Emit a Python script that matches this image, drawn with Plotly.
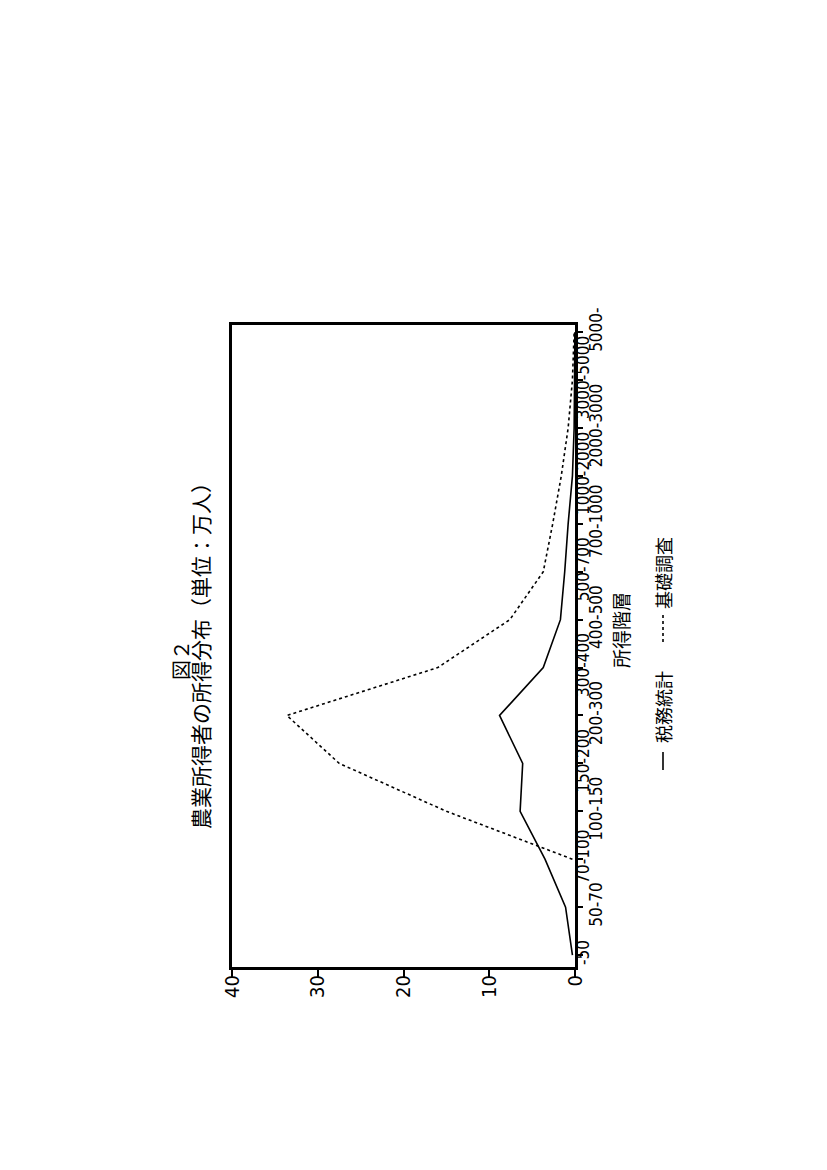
import plotly.graph_objects as go

categories = ["-50", "50-70", "70-100", "100-150", "150-200", "200-300", "300-400",
              "400-500", "500-700", "700-1000", "1000-2000", "2000-3000", "3000-5000", "5000-"]
zeimu_tokei = [0.3, 1.1, 3.5, 6.4, 6.1, 8.8, 3.7, 1.7, 1.2, 0.8, 0.3, 0.1, 0.05, 0.02]
kiso_chosa = [None, None, 0.3, 15.0, 27.5, 33.6, 16.0, 7.6, 3.7, 2.6, 1.6, 0.8, 0.3, 0.1]
value_ticks = [0, 10, 20, 30, 40]

series_names = ["税務統計", "基礎調査"]
title_line1 = "図２"
title_line2 = "農業所得者の所得分布（単位：万人）"
cat_axis_title = "所得階層"

pos = list(range(len(categories)))
even_pos = [p for p in pos if p % 2 == 0]
odd_pos = [p for p in pos if p % 2 == 1]

fig = go.Figure()
fig.add_trace(go.Scatter(x=zeimu_tokei, y=pos, mode="lines", name=series_names[0],
                         line=dict(color="black", width=1.6), yaxis="y"))
fig.add_trace(go.Scatter(x=kiso_chosa, y=pos, mode="lines", name=series_names[1],
                         line=dict(color="black", width=1.6, dash="dot"), yaxis="y"))

OFF = 8  # default page body margin
W, H = 827, 1170
EXTRA = 10
L, T = 232 - OFF, 325 - OFF
bw, ph = 343, 642
pw = bw + EXTRA
R, B = W - L - pw, H - T - ph

def px(x):
    return (x - OFF - L) / pw

def py(y):
    return (T + ph - (y - OFF)) / ph

yr = [-0.25, 13.15]
narrow = "Liberation Sans Narrow, DejaVu Sans Condensed, DejaVu Sans Mono"
tickfont_cat = dict(family=narrow, size=17, color="black")
ROW1_SHIFT = -12   # label rows relative to the axis line (px)
ROW2_SHIFT = 1

label_axis = dict(range=yr, side="right", overlaying="y", anchor="free",
                  tickangle=-90, ticks="outside", ticklen=5, tickcolor="rgba(0,0,0,0)",
                  showline=False, showgrid=False, zeroline=False, tickfont=tickfont_cat)

fig.update_layout(
    width=W, height=H,
    margin=dict(l=L, r=R, t=T, b=B),
    paper_bgcolor="white", plot_bgcolor="white",
    showlegend=False,
    xaxis=dict(domain=[0, bw / pw], range=[40, 0], tickvals=value_ticks,
               ticktext=[str(v) for v in value_ticks],
               tickangle=-90, ticks="outside", ticklen=7, tickwidth=2, tickcolor="black",
               showline=True, mirror=True, linewidth=3, linecolor="black",
               showgrid=False, zeroline=False, ticklabelstandoff=-10,
               tickfont=dict(family=narrow, size=20, color="black")),
    yaxis=dict(range=yr, side="right", anchor="x", tickvals=pos, showticklabels=False,
               ticks="outside", ticklen=5, tickwidth=2, tickcolor="black",
               showline=True, mirror=True, linewidth=3, linecolor="black",
               showgrid=False, zeroline=False),
    yaxis2=dict(label_axis, position=(bw + ROW1_SHIFT) / pw,
                tickvals=even_pos, ticktext=[categories[p] for p in even_pos]),
    yaxis3=dict(label_axis, position=(bw + ROW2_SHIFT) / pw,
                tickvals=odd_pos, ticktext=[categories[p] for p in odd_pos]),
)
# invisible traces to activate the label axes
fig.add_trace(go.Scatter(x=[None], y=[None], yaxis="y2", showlegend=False, hoverinfo="skip"))
fig.add_trace(go.Scatter(x=[None], y=[None], yaxis="y3", showlegend=False, hoverinfo="skip"))

cjk = "Noto Sans CJK JP"
ann = [
    dict(text=title_line1, x=px(180), y=py(660), font=dict(family=cjk, size=20)),
    dict(text=title_line2, x=px(200), y=py(651), font=dict(family=cjk, size=21)),
    dict(text=cat_axis_title, x=px(620), y=py(630), font=dict(family=cjk, size=19)),
    dict(text=series_names[0], x=px(663), y=py(707), font=dict(family=cjk, size=18)),
    dict(text=series_names[1], x=px(663), y=py(573), font=dict(family=cjk, size=18)),
]
for a in ann:
    fig.add_annotation(xref="paper", yref="paper", textangle=-90, showarrow=False,
                       xanchor="center", yanchor="middle",
                       font_color="black", **{k: v for k, v in a.items()})

fig.add_shape(type="line", xref="paper", yref="paper", x0=px(663), x1=px(663),
              y0=py(770), y1=py(752), line=dict(color="black", width=1.6))
fig.add_shape(type="line", xref="paper", yref="paper", x0=px(663), x1=px(663),
              y0=py(642), y1=py(614), line=dict(color="black", width=1.6, dash="dot"))

fig.write_html("out.html")
